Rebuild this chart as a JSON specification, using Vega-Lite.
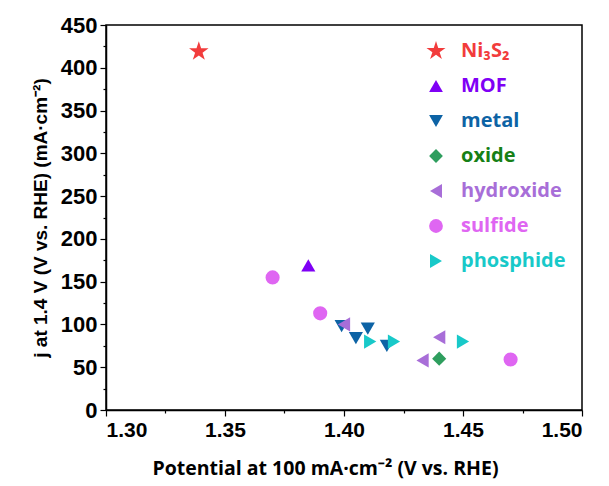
{
  "$schema": "https://vega.github.io/schema/vega-lite/v6.json",
  "width": 476,
  "height": 385,
  "autosize": {"type": "none"},
  "padding": {"left": 106, "top": 25, "right": 27, "bottom": 76},
  "background": "white",
  "config": {
    "view": {"stroke": "black", "strokeWidth": 1.5},
    "axis": {"grid": false, "domainColor": "black", "domainWidth": 1.5, "tickColor": "black", "tickWidth": 1.2}
  },
  "data": {
    "values": [
      {"x": 1.339, "y": 419, "type": "Ni₃S₂"},
      {"x": 1.385, "y": 169, "type": "MOF"},
      {"x": 1.399, "y": 98, "type": "metal"},
      {"x": 1.405, "y": 84, "type": "metal"},
      {"x": 1.410, "y": 95, "type": "metal"},
      {"x": 1.418, "y": 75, "type": "metal"},
      {"x": 1.440, "y": 60, "type": "oxide"},
      {"x": 1.400, "y": 100, "type": "hydroxide"},
      {"x": 1.440, "y": 85, "type": "hydroxide"},
      {"x": 1.433, "y": 58, "type": "hydroxide"},
      {"x": 1.370, "y": 155, "type": "sulfide"},
      {"x": 1.390, "y": 113, "type": "sulfide"},
      {"x": 1.470, "y": 59, "type": "sulfide"},
      {"x": 1.411, "y": 80, "type": "phosphide"},
      {"x": 1.421, "y": 80, "type": "phosphide"},
      {"x": 1.450, "y": 80, "type": "phosphide"}
    ]
  },
  "resolve": {"axis": {"x": "independent", "y": "independent"}},
  "layer": [
    {
      "mark": {"type": "point", "opacity": 0},
      "encoding": {
        "x": {
          "field": "x", "type": "quantitative",
          "scale": {"domain": [1.3, 1.5], "nice": false},
          "axis": {"orient": "bottom", "values": [1.325, 1.375, 1.425, 1.475], "labels": false, "domain": false, "title": null, "tickSize": 3}
        },
        "y": {
          "field": "y", "type": "quantitative",
          "scale": {"domain": [0, 450], "nice": false},
          "axis": {"orient": "left", "values": [25, 75, 125, 175, 225, 275, 325, 375, 425], "labels": false, "domain": false, "title": null, "tickSize": 3}
        }
      }
    },
    {
      "mark": {"type": "point", "filled": true, "opacity": 1, "size": 200},
      "encoding": {
        "x": {
          "field": "x", "type": "quantitative",
          "scale": {"domain": [1.3, 1.5], "nice": false},
          "axis": {
            "orient": "bottom",
            "values": [1.3, 1.35, 1.4, 1.45, 1.5], "format": ".2f",
            "title": "Potential at 100 mA·cm⁻² (V vs. RHE)",
            "labelFont": "Liberation Sans", "labelFontWeight": "bold", "labelFontSize": 21, "labelColor": "black", "labelPadding": 3,
            "tickSize": 6,
            "titleFont": "Open Sans", "titleFontWeight": "bold", "titleFontSize": 19.5, "titleColor": "black",
            "titleX": 219, "titleY": 58, "titleBaseline": "middle", "titleAnchor": null, "titleAlign": "center"
          }
        },
        "y": {
          "field": "y", "type": "quantitative",
          "scale": {"domain": [0, 450], "nice": false},
          "axis": {
            "orient": "left",
            "values": [0, 50, 100, 150, 200, 250, 300, 350, 400, 450],
            "title": "j at 1.4 V (V vs. RHE) (mA·cm⁻²)",
            "labelFont": "Liberation Sans", "labelFontWeight": "bold", "labelFontSize": 22, "labelColor": "black", "labelPadding": 3,
            "tickSize": 6,
            "titleFont": "Liberation Sans", "titleFontWeight": "bold", "titleFontSize": 19, "titleColor": "black", "titlePadding": 10
          }
        },
        "color": {
          "field": "type", "type": "nominal",
          "scale": {
            "domain": ["Ni₃S₂", "MOF", "metal", "oxide", "hydroxide", "sulfide", "phosphide"],
            "range": ["#f23c3c", "#7f00f5", "#0d63a5", "#2e9e5e", "#a86ed8", "#df66f2", "#18c9c9"]
          },
          "legend": {
            "title": null,
            "orient": "none", "legendX": 320, "legendY": 16,
            "padding": 0,
            "labelFont": "Open Sans", "labelFontWeight": "bold", "labelFontSize": 20,
            "labelColor": {"expr": "datum.value == 'oxide' ? '#168016' : scale('color', datum.value)"},
            "labelOffset": 15,
            "symbolSize": 190,
            "symbolStrokeWidth": 0,
            "rowPadding": 15
          }
        },
        "shape": {
          "field": "type", "type": "nominal",
          "scale": {
            "domain": ["Ni₃S₂", "MOF", "metal", "oxide", "hydroxide", "sulfide", "phosphide"],
            "range": ["M0,-1.45L0.326,-0.448L1.379,-0.448L0.527,0.171L0.852,1.173L0,0.554L-0.852,1.173L-0.527,0.171L-1.379,-0.448L-0.326,-0.448Z", "triangle-up", "triangle-down", "diamond", "triangle-left", "circle", "triangle-right"]
          },
          "legend": null
        }
      }
    }
  ]
}
